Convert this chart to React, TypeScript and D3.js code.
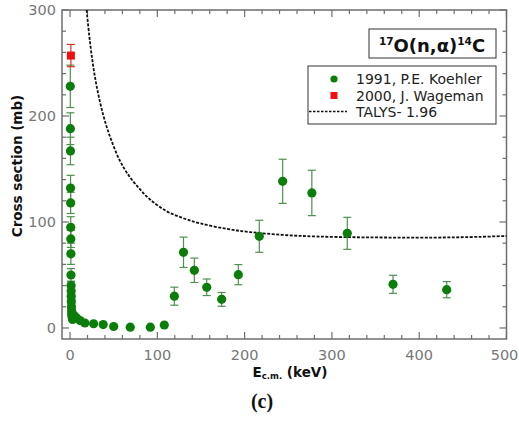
import React from "react";
import * as d3 from "d3";

// 1991, P.E. Koehler (E in keV, sigma in mb, symmetric error)
const koehlerE = [0.3, 0.4, 0.5, 0.6, 0.7, 0.8, 0.9, 1.0, 1.1, 1.2, 1.3, 1.4, 1.5, 1.6, 1.8, 2.0, 2.3, 2.6, 3.0, 4.5, 7.6, 11.5, 17, 27, 38, 50, 69, 92, 108,
  119.5, 130, 142.4, 156.6, 173.7, 192.8, 216.8, 243.6, 277, 317.6, 370, 431.5];
const koehlerSigma = [228, 188, 167, 132, 118, 95, 84, 70, 50, 40, 35, 30, 25, 20, 16, 13, 11, 9, 8, 12, 9.4, 7, 4.7, 4, 3.2, 1.4, 0.8, 0.8, 2.8,
  30, 71.4, 54.4, 38.4, 27, 50.3, 86.5, 138.4, 127.4, 89.3, 41.2, 36.1];
const koehlerErr = [20, 15, 13, 12, 10, 10, 8, 10, 6, 4, 3, 3, 2, 2, 2, 1, 1, 1, 1, 1, 1, 1, 0.5, 0.5, 0.5, 0.3, 0.3, 0.3, 0.5,
  8.5, 14.3, 11.5, 7.8, 6.5, 9.5, 15.1, 20.8, 21.4, 15.1, 8.5, 7.6];

// 2000, J. Wageman
const wagemanE = [1];
const wagemanSigma = [257];
const wagemanErr = [10.5];

// TALYS-1.96
const talysE = [19, 22, 26, 31, 38, 46, 57, 68, 80, 92, 111, 130, 149, 180, 206, 244, 283, 340, 416, 470, 500];
const talysSigma = [300, 276, 250, 226, 201, 180, 158, 143, 131, 121, 110, 103.5, 98.7, 93.4, 90.5, 87.8, 86.3, 85.5, 85.3, 86, 86.8];

const xMajor = [0, 100, 200, 300, 400, 500];
const yMajor = [0, 100, 200, 300];

const W = 519;
const H = 422;
const left = 62, right = 506.5, top = 10, bottom = 339;

const FONT = "'DejaVu Sans', sans-serif";
const GREEN = "#0b7d0b";
const ERR_GREEN = "#4f8f4f";
const AXIS = "#6e6e6e";

export default function App() {
  const x = d3.scaleLinear().domain([-9.2, 500]).range([left, right]);
  const y = d3.scaleLinear().domain([-10.4, 300]).range([bottom, top]);

  const xTicks = d3.range(0, 501, 20);
  const yTicks = d3.range(0, 301, 20);

  const line = d3
    .line<number>()
    .x((d) => x(talysE[d]))
    .y((d) => y(talysSigma[d]))
    .curve(d3.curveCatmullRom);

  const errBar = (e: number, s: number, err: number, col: string, k: string) => {
    if (err < 1.5) return null;
    const cx = x(e);
    return (
      <g key={k} stroke={col} strokeWidth={1.2}>
        <line x1={cx} x2={cx} y1={y(s - err)} y2={y(s + err)} />
        <line x1={cx - 4} x2={cx + 4} y1={y(s - err)} y2={y(s - err)} />
        <line x1={cx - 4} x2={cx + 4} y1={y(s + err)} y2={y(s + err)} />
      </g>
    );
  };

  return (
    <svg width={W} height={H} style={{ display: "block", position: "absolute", left: 0, top: 0 }}>
      <rect width={W} height={H} fill="white" />

      {/* frame */}
      <rect x={left} y={top} width={right - left} height={bottom - top} fill="none" stroke={AXIS} strokeWidth={1.5} />

      {/* ticks */}
      {xTicks.map((t) => {
        const len = t % 100 === 0 ? 7 : 4;
        return (
          <g key={"xt" + t} stroke={AXIS} strokeWidth={1.2}>
            <line x1={x(t)} x2={x(t)} y1={bottom} y2={bottom - len} />
            <line x1={x(t)} x2={x(t)} y1={top} y2={top + len} />
          </g>
        );
      })}
      {yTicks.map((t) => {
        const len = t % 100 === 0 ? 7 : 4;
        return (
          <g key={"yt" + t} stroke={AXIS} strokeWidth={1.2}>
            <line x1={left} x2={left + len} y1={y(t)} y2={y(t)} />
            <line x1={right} x2={right - len} y1={y(t)} y2={y(t)} />
          </g>
        );
      })}

      {/* tick labels */}
      {xMajor.map((t) => (
        <text
          key={"xl" + t}
          x={t === 500 ? x(t) - 2 : x(t)}
          y={bottom + 21}
          textAnchor="middle"
          fontFamily={FONT}
          fontSize={14.5}
          fill="#777"
        >
          {t}
        </text>
      ))}
      {yMajor.map((t) => (
        <text key={"yl" + t} x={left - 6} y={y(t) + 5} textAnchor="end" fontFamily={FONT} fontSize={14.5} fill="#777">
          {t}
        </text>
      ))}

      {/* axis titles */}
      <text
        transform={`translate(22,166) rotate(-90)`}
        textAnchor="middle"
        fontFamily={FONT}
        fontWeight="bold"
        fontSize={13.5}
        fill="#111"
      >
        Cross section (mb)
      </text>
      <text x={290} y={377} textAnchor="middle" fontFamily={FONT} fontWeight="bold" fontSize={13.5} fill="#111">
        E<tspan fontSize={8.5} dy={2}>c.m.</tspan>
        <tspan dy={-2}> (keV)</tspan>
      </text>
      <text x={262} y={408} textAnchor="middle" fontFamily="'Liberation Serif', serif" fontWeight="bold" fontSize={20} fill="#111">
        (c)
      </text>

      {/* TALYS curve */}
      <path d={line(d3.range(talysE.length)) || ""} fill="none" stroke="#111" strokeWidth={1.8} strokeDasharray="3,1.5" />

      {/* error bars */}
      {koehlerE.map((e, i) => errBar(e, koehlerSigma[i], koehlerErr[i], ERR_GREEN, "ke" + i))}
      {wagemanE.map((e, i) => errBar(e, wagemanSigma[i], wagemanErr[i], "#e0302a", "we" + i))}

      {/* points */}
      {koehlerE.map((e, i) => (
        <circle key={"k" + i} cx={x(e)} cy={y(koehlerSigma[i])} r={4.6} fill={GREEN} />
      ))}
      {wagemanE.map((e, i) => (
        <rect key={"w" + i} x={x(e) - 4} y={y(wagemanSigma[i]) - 4} width={8} height={8} fill="#ee1111" />
      ))}

      {/* reaction label */}
      <rect x={369} y={29} width={127} height={29} fill="white" stroke="#333" strokeWidth={1} />
      <text x={432} y={51.5} textAnchor="middle" fontFamily={FONT} fontWeight="bold" fontSize={18} fill="#111">
        <tspan fontSize={10.5} dy={-7}>17</tspan>
        <tspan dy={7}>O(n,α)</tspan>
        <tspan fontSize={10.5} dy={-7}>14</tspan>
        <tspan dy={7}>C</tspan>
      </text>

      {/* legend */}
      <rect x={308} y={66} width={188} height={58} fill="white" stroke="#333" strokeWidth={1} />
      <circle cx={334} cy={79} r={3.6} fill={GREEN} />
      <rect x={330.5} y={92} width={7} height={7} fill="#ee1111" />
      <line x1={309} x2={347} y1={111.5} y2={111.5} stroke="#111" strokeWidth={1.4} strokeDasharray="2.5,1.5" />
      <text x={356} y={84} fontFamily={FONT} fontSize={14} fill="#222">1991, P.E. Koehler</text>
      <text x={356} y={100.5} fontFamily={FONT} fontSize={14} fill="#222">2000, J. Wageman</text>
      <text x={356} y={117} fontFamily={FONT} fontSize={14} fill="#222">TALYS- 1.96</text>
    </svg>
  );
}
